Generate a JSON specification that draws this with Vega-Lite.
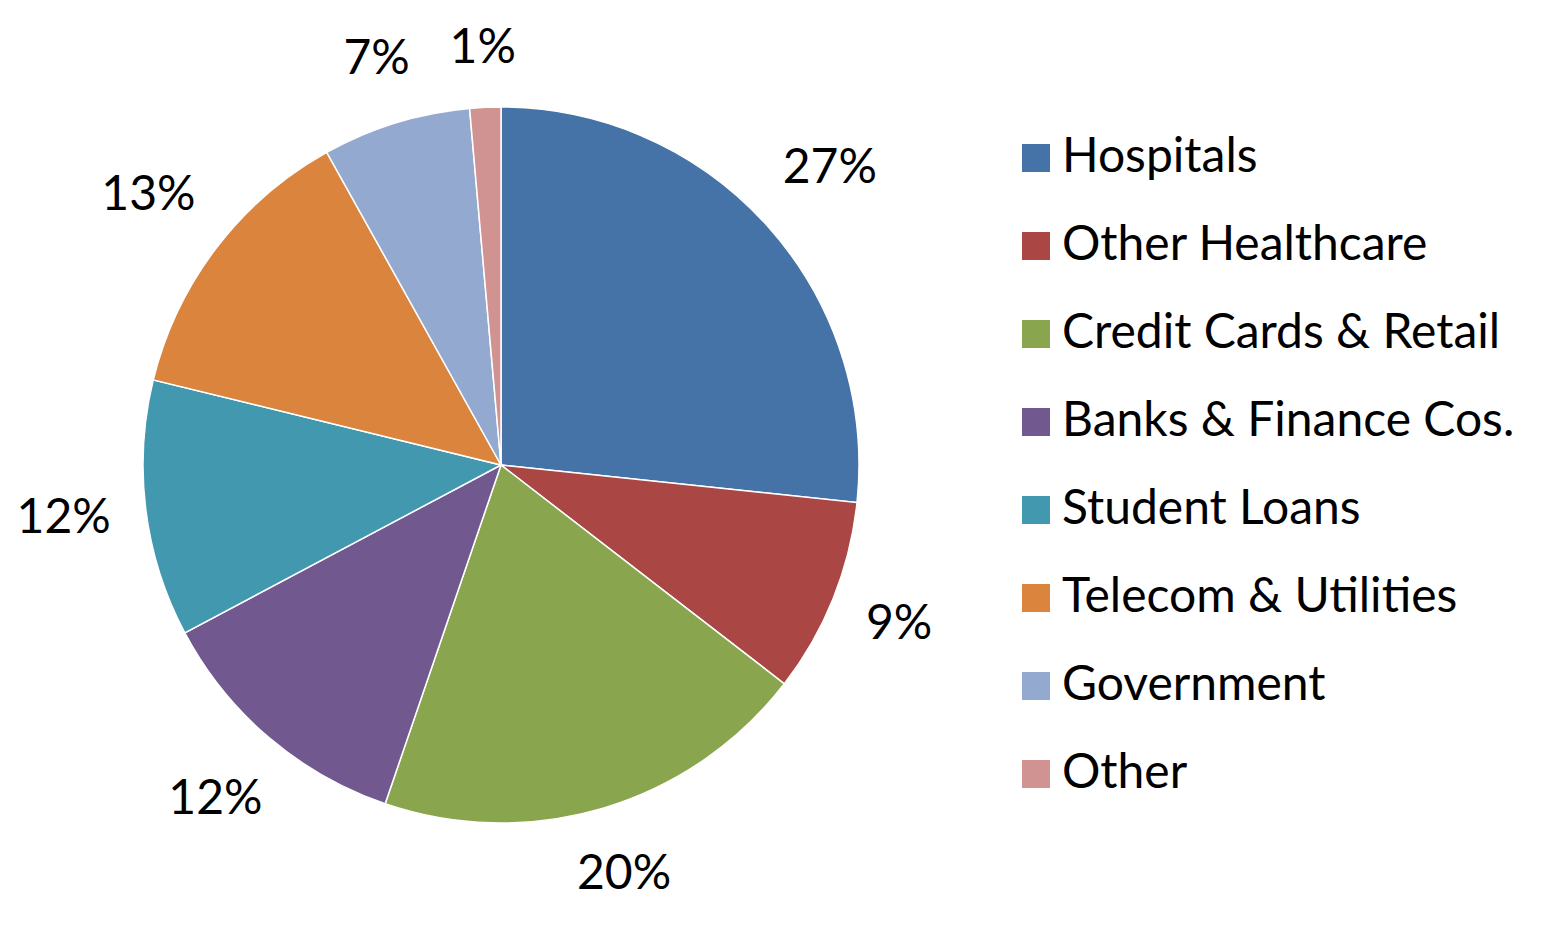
{
  "$schema": "https://vega.github.io/schema/vega-lite/v6.json",
  "width": 1002,
  "height": 926,
  "padding": {"left": 0, "top": 2, "right": 0, "bottom": 0},
  "autosize": {"type": "pad"},
  "background": "white",
  "config": {"view": {"stroke": null}, "font": "Lato"},
  "data": {
    "values": [
      {"category": "Hospitals", "value": 26.7, "label": "27%", "order": 1},
      {"category": "Other Healthcare", "value": 8.8, "label": "9%", "order": 2},
      {"category": "Credit Cards & Retail", "value": 19.8, "label": "20%", "order": 3},
      {"category": "Banks & Finance Cos.", "value": 12.0, "label": "12%", "order": 4},
      {"category": "Student Loans", "value": 11.6, "label": "12%", "order": 5},
      {"category": "Telecom & Utilities", "value": 13.1, "label": "13%", "order": 6},
      {"category": "Government", "value": 6.7, "label": "7%", "order": 7},
      {"category": "Other", "value": 1.4, "label": "1%", "order": 8}
    ]
  },
  "encoding": {
    "theta": {"field": "value", "type": "quantitative", "stack": true},
    "order": {"field": "order", "type": "quantitative"},
    "color": {
      "field": "category",
      "type": "nominal",
      "sort": null,
      "scale": {
        "domain": ["Hospitals", "Other Healthcare", "Credit Cards & Retail", "Banks & Finance Cos.", "Student Loans", "Telecom & Utilities", "Government", "Other"],
        "range": ["#4572A7", "#AA4643", "#89A54E", "#71588F", "#4198AF", "#DB843D", "#93A9CF", "#D19392"]
      },
      "legend": {
        "title": null,
        "orient": "none",
        "legendX": 1012,
        "legendY": 132,
        "symbolType": "square",
        "symbolSize": 784,
        "symbolStrokeWidth": 0,
        "labelFontSize": 48,
        "labelFont": "Lato",
        "labelColor": "black",
        "labelOffset": 2,
        "rowPadding": 40,
        "labelLimit": 600
      }
    }
  },
  "layer": [
    {
      "mark": {"type": "arc", "radius": 358, "stroke": "white", "strokeWidth": 1.5}
    },
    {
      "mark": {
        "type": "text",
        "radius": {"expr": "390 + 25*abs(cos(scale('theta', 0.5*datum.value_start + 0.5*datum.value_end))) + 16*length(datum.label)*abs(sin(scale('theta', 0.5*datum.value_start + 0.5*datum.value_end)))"},
        "fontSize": 48,
        "font": "Lato",
        "color": "black"
      },
      "encoding": {
        "text": {"field": "label"},
        "color": {"value": "black"}
      }
    }
  ]
}
